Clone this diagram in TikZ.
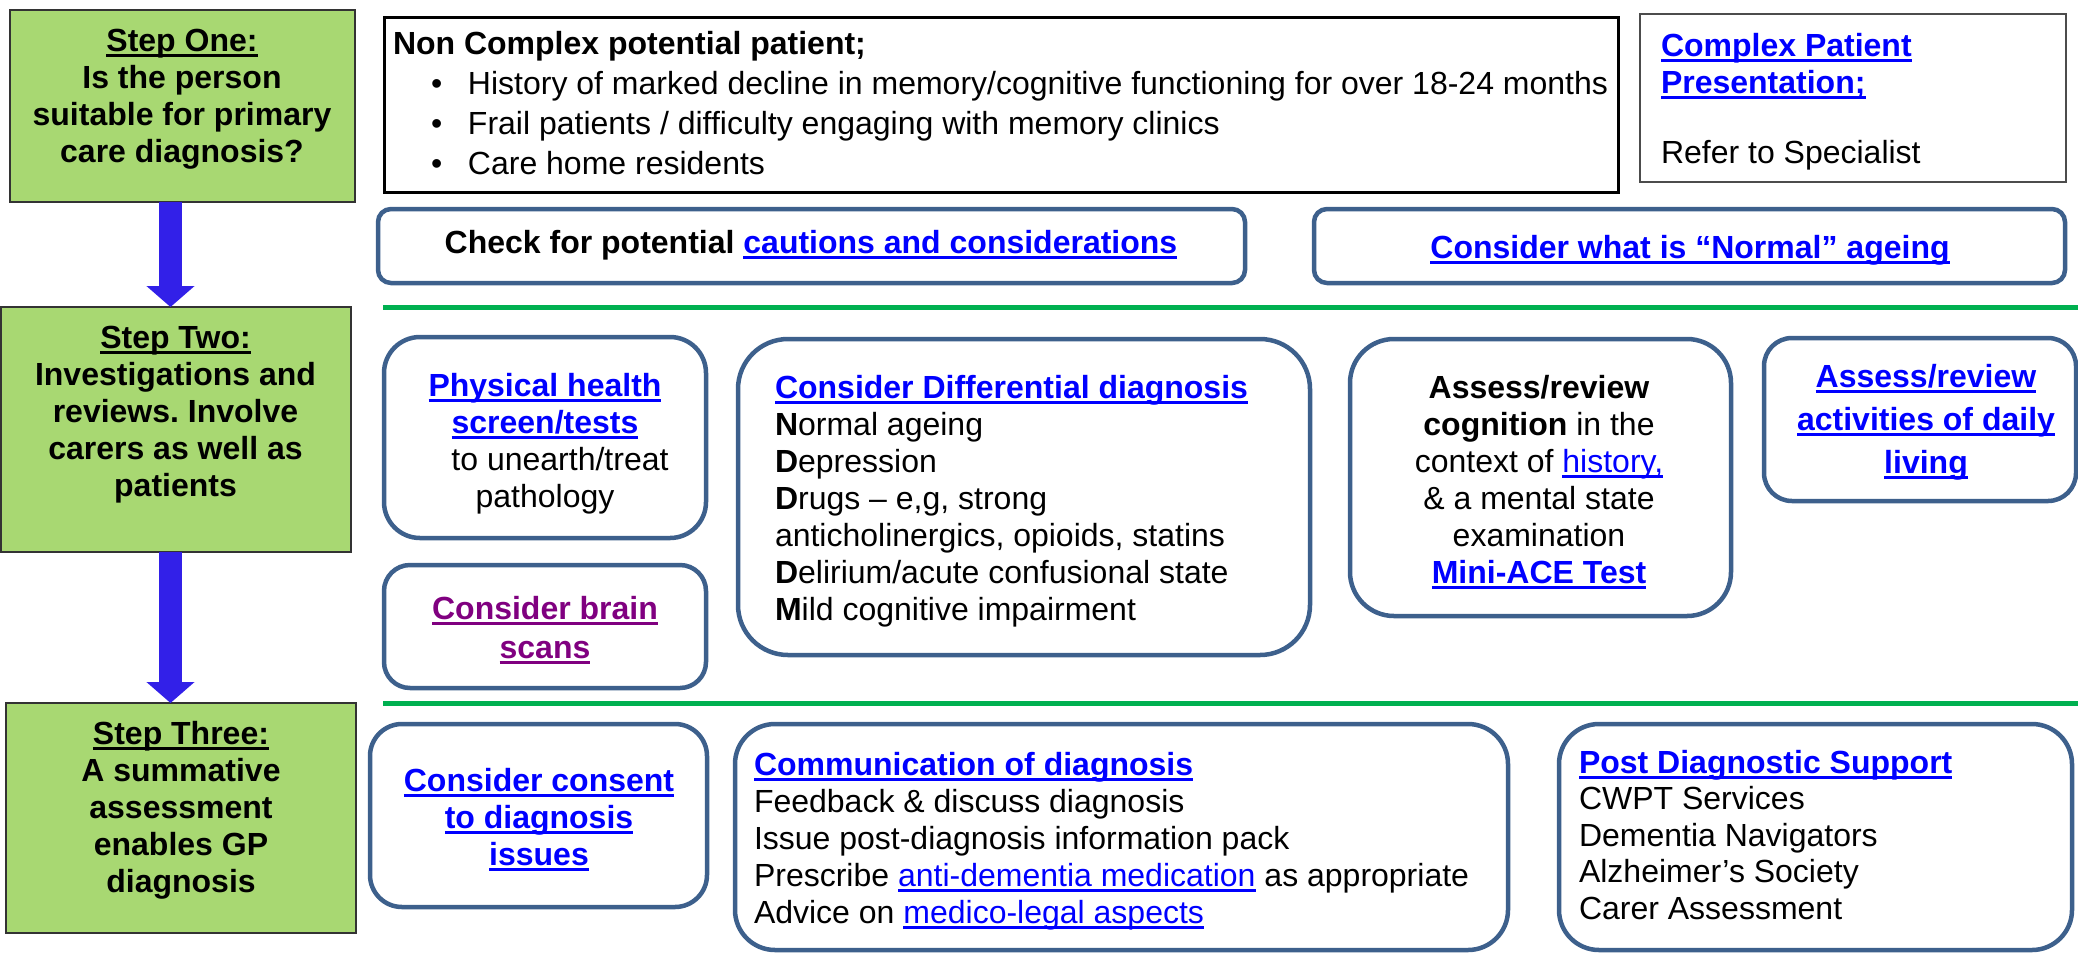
\documentclass[tikz,border=0pt]{standalone}
\usepackage{fontspec}
\setmainfont{Liberation Sans}
\usetikzlibrary{arrows.meta}
\frenchspacing

\definecolor{stepgreen}{RGB}{168,216,114}
\definecolor{flowblue}{RGB}{50,32,232}
\definecolor{boxblue}{RGB}{61,96,140}
\definecolor{rulegreen}{RGB}{0,176,80}
\definecolor{linkblue}{RGB}{0,0,255}
\definecolor{visitedlink}{RGB}{128,0,128}

% underline drawn as a rule below the text box
\newsavebox{\ulbox}
\newcommand{\ulx}[1]{\sbox{\ulbox}{#1}\rlap{\rule[-6pt]{\wd\ulbox}{2.7pt}}\usebox{\ulbox}}
\newcommand{\lnk}[1]{\textcolor{linkblue}{\ulx{#1}}}
\newcommand{\vlnk}[1]{\textcolor{visitedlink}{\ulx{#1}}}
\newcommand{\fs}{\fontsize{32}{37}\selectfont}
% panel: name, left, top, width, height, style
\newcommand{\panel}[6]{\node[#6, anchor=north west, minimum width=#4pt, minimum height=#5pt] (#1) at (#2,#3) {};}

\begin{document}
\begin{tikzpicture}[x=1pt, y=-1pt,
  stepbox/.style={draw=black!80, fill=stepgreen, line width=1.5pt, inner sep=0pt, outer sep=0pt},
  plainbox/.style={draw=black, line width=3pt, inner sep=0pt, outer sep=0pt},
  greybox/.style={draw=black!70, line width=2pt, inner sep=0pt, outer sep=0pt},
  rbox/.style={draw=boxblue, fill=white, line width=4.5pt, inner sep=0pt, outer sep=0pt, rounded corners=#1},
  rbox/.default=40pt,
  txt/.style={inner sep=0pt, outer sep=0pt, font=\fs},
  steptxt/.style={txt, align=center, font=\fs\bfseries, anchor=base},
  flowarrow/.style={draw=flowblue, line width=23pt, -{Triangle[length=21pt, width=47pt]}},
  rule/.style={draw=rulegreen, line width=5pt}
]
\useasboundingbox (0,0) rectangle (2078,954);

% step column (multi-line texts are placed by the baseline of their last line)
\panel{s1}{10}{10}{345}{192}{stepbox}
\panel{s2}{1}{307}{350}{245}{stepbox}
\panel{s3}{6}{703}{350}{230}{stepbox}
\coordinate (ax) at (170.5,0);
\draw[flowarrow] (s1.south -| ax) -- (s2.north -| ax);
\draw[flowarrow] (s2.south -| ax) -- (s3.north -| ax);

\node[steptxt] (t1) at (182,162) {\ulx{Step One:}\\Is the person\\suitable for primary\\care diagnosis?};
\node[steptxt] (t2) at (175.5,496) {\ulx{Step Two:}\\Investigations and\\reviews. Involve\\carers as well as\\patients};
\node[steptxt] (t3) at (181,892) {\ulx{Step Three:}\\A summative\\assessment\\enables GP\\diagnosis};

% step one panels
\panel{nc}{384}{17}{1234}{175}{plainbox}
\panel{cx}{1640}{14}{426}{168}{greybox}
\panel{chk}{378}{209}{867}{74}{rbox=13pt}
\panel{nrm}{1314}{209}{751}{74}{rbox=13pt}

\node[txt, anchor=base west, align=left, font={\fontsize{32}{40}\selectfont}] (nct) at (393,174)
  {\textbf{Non Complex potential patient;}\\
   \hspace*{38pt}\makebox[37pt][l]{\textbullet}History of marked decline in memory/cognitive functioning for over 18-24 months\\
   \hspace*{38pt}\makebox[37pt][l]{\textbullet}Frail patients / difficulty engaging with memory clinics\\
   \hspace*{38pt}\makebox[37pt][l]{\textbullet}Care home residents};
\node[txt, anchor=base west, align=left] (cxt) at (1661,163)
  {\textbf{\lnk{Complex Patient}}\\\textbf{\lnk{Presentation;}}\\[33pt]Refer to Specialist};
\node[txt, anchor=base] (chkt) at (811,253) {\textbf{Check for potential \lnk{cautions and considerations}}};
\node[txt, anchor=base] (nrmt) at (1690,258) {\textbf{\lnk{Consider what is “Normal” ageing}}};

\draw[rule] (383,307) -- (2078,307);

% step two panels
\panel{phy}{384}{337}{322}{201}{rbox=36pt}
\panel{brn}{384}{565}{322}{123}{rbox=26pt}
\panel{dif}{738}{339}{572}{316}{rbox=50pt}
\panel{cog}{1350}{339}{381}{277}{rbox=44pt}
\panel{adl}{1764}{338}{312}{163}{rbox=28pt}

\node[txt, anchor=base, align=center] (phyt) at (545,507)
  {\textbf{\lnk{Physical health}}\\\textbf{\lnk{screen/tests}}\\\hspace*{30pt}to unearth/treat\\pathology};
\node[txt, anchor=base, align=center, font={\fontsize{32}{39}\selectfont}] (brnt) at (545,658)
  {\textbf{\vlnk{Consider brain}}\\\textbf{\vlnk{scans}}};
\node[txt, anchor=base west, align=left] (dift) at (775,620)
  {\textbf{\lnk{Consider Differential diagnosis}}\\
   \textbf{N}ormal ageing\\
   \textbf{D}epression\\
   \textbf{D}rugs – e,g, strong\\
   anticholinergics, opioids, statins\\
   \textbf{D}elirium/acute confusional state\\
   \textbf{M}ild cognitive impairment};
\node[txt, anchor=base, align=center] (cogt) at (1539,583)
  {\textbf{Assess/review}\\\textbf{cognition} in the\\context of \lnk{history,}\\\& a mental state\\examination\\\textbf{\lnk{Mini-ACE Test}}};
\node[txt, anchor=base, align=center, font={\fontsize{32}{43}\selectfont}] (adlt) at (1926,473)
  {\textbf{\lnk{Assess/review}}\\\textbf{\lnk{activities of daily}}\\\textbf{\lnk{living}}};

\draw[rule] (383,703) -- (2078,703);

% step three panels
\panel{cns}{370}{724}{337}{183}{rbox=32pt}
\panel{com}{735}{724}{773}{226}{rbox=40pt}
\panel{pds}{1559}{724}{513}{226}{rbox=40pt}

\node[txt, anchor=base, align=center] (cnst) at (539,865)
  {\textbf{\lnk{Consider consent}}\\\textbf{\lnk{to diagnosis}}\\\textbf{\lnk{issues}}};
\node[txt, anchor=base west, align=left] (comt) at (754,923)
  {\textbf{\lnk{Communication of diagnosis}}\\
   Feedback \& discuss diagnosis\\
   Issue post-diagnosis information pack\\
   Prescribe \lnk{anti-dementia medication} as appropriate\\
   Advice on \lnk{medico-legal aspects}};
\node[txt, anchor=base west, align=left, font={\fontsize{32}{36.5}\selectfont}] (pdst) at (1579,919)
  {\textbf{\lnk{Post Diagnostic Support}}\\CWPT Services\\Dementia Navigators\\Alzheimer’s Society\\Carer Assessment};
\end{tikzpicture}
\end{document}
